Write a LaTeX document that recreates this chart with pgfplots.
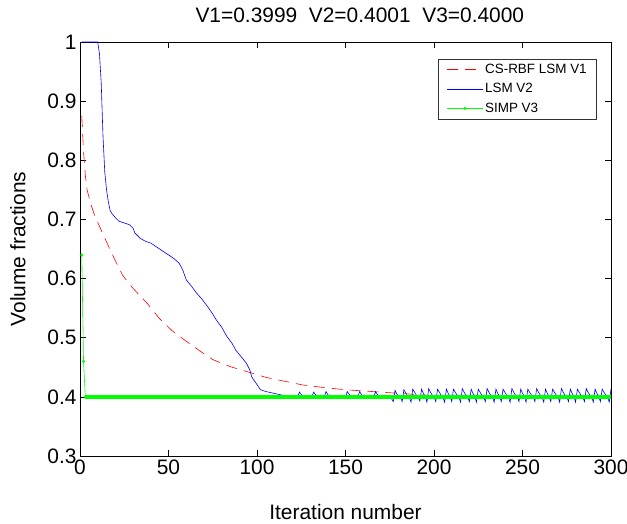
\documentclass[border=0pt]{standalone}
\usepackage{pgfplots}
\pgfplotsset{compat=1.18}
\usepackage{fontspec}
\setmainfont{Liberation Sans}
\begin{document}
\begin{tikzpicture}
\begin{axis}[
  name=ax,
  scale only axis, width=531bp, height=414bp,
  xmin=0, xmax=300, ymin=0.3, ymax=1,
  xtick={0,50,100,150,200,250,300},
  ytick={0.3,0.4,0.5,0.6,0.7,0.8,0.9,1},
  tick align=inside, major tick length=6bp,
  xtick pos=both, ytick pos=both,
  xticklabel pos=bottom, yticklabel pos=left,
  /pgf/number format/assume math mode=true,
  tick label style={font=\fontsize{21}{24}\selectfont},
  axis line style={black, line width=0.6pt},
  every tick/.style={black, line width=0.6pt},
  title={V1=0.3999\ \ V2=0.4001\ \ V3=0.4000},
  title style={font=\fontsize{21}{24}\selectfont, at={(axis description cs:0.527,1.05)}, anchor=center},
  xlabel={Iteration number},
  ylabel={Volume fractions},
  xlabel style={font=\fontsize{21}{24}\selectfont, at={(axis description cs:0.5,-0.135)}, anchor=center},
  ylabel style={font=\fontsize{21}{24}\selectfont, at={(axis description cs:-0.117,0.5)}, anchor=center},
  legend style={at={(0.9736,0.959)}, anchor=north east, font=\fontsize{13.5}{16}\selectfont,
    draw=black!80, line width=0.5pt, inner xsep=8bp, inner ysep=3bp, row sep=4.5bp},
  legend cell align=left,
  legend image code/.code={\draw[mark repeat=2,mark phase=2,#1] plot coordinates {(0bp,0bp) (18bp,0bp) (36bp,0bp)};},
]
\addplot[red, line width=0.6pt, dash pattern=on 11bp off 7bp] coordinates {
(1,0.875)(2,0.815)(3,0.775)(4,0.750)(6,0.727)(8,0.709)(10,0.695)(13,0.675)(17,0.649)(20,0.630)(24,0.606)(28,0.590)(32,0.577)(38,0.558)(45,0.532)(52,0.512)(60,0.494)(68,0.477)(75,0.463)(85,0.451)(94,0.443)(105,0.433)(113,0.428)(126,0.420)(140,0.415)(150,0.412)(165,0.409)(175,0.407)(190,0.404)(200,0.402)
};
\addlegendentry{CS-RBF LSM V1}
\addplot[blue, line width=0.6pt] coordinates {
(1,1)(10,1)(11,0.98)(12,0.93)(13,0.84)(14,0.78)(15,0.75)(16,0.73)(17,0.715)(18,0.71)(20,0.703)(22,0.697)(25,0.694)(28,0.691)(30,0.685)(31,0.677)(34,0.668)(37,0.663)(40,0.66)(43,0.654)(46,0.648)(50,0.64)(53,0.634)(56,0.626)(58,0.615)(60,0.598)(63,0.587)(66,0.575)(69,0.565)(72,0.553)(75,0.54)(77,0.53)(80,0.518)(83,0.502)(86,0.49)(88,0.479)(91,0.468)(94,0.457)(96,0.445)(97,0.434)(99,0.425)(102,0.412)(105,0.409)(108,0.407)(111,0.405)(114,0.403)(117,0.402)(120,0.401)
(122,0.400)(123,0.400)(124,0.408)(125,0.404)(126,0.401)(127,0.400)(131,0.400)(132,0.408)(133,0.404)(134,0.401)(135,0.400)(138,0.400)(139,0.409)(140,0.404)(141,0.401)(142,0.400)(150,0.400)(151,0.409)(152,0.405)(153,0.401)(154,0.400)(157,0.400)(158,0.409)(159,0.404)(160,0.401)(161,0.400)(166,0.400)(167,0.409)(168,0.404)(169,0.401)(170,0.400)(175,0.400)(176,0.397)(177,0.392)(178,0.411)(179,0.405)(180,0.401)(181,0.400)
(182,0.392)(183,0.412)(184,0.407)(185,0.402)(186,0.400)
(187,0.391)(188,0.413)(189,0.408)(190,0.403)(191,0.400)
(192,0.393)(193,0.413)(194,0.406)(195,0.401)
(196,0.391)(197,0.414)(198,0.408)(199,0.403)(200,0.400)
(201,0.392)(202,0.413)(203,0.408)(204,0.403)(205,0.400)
(206,0.391)(207,0.413)(208,0.406)(209,0.401)
(210,0.392)(211,0.413)(212,0.408)(213,0.403)(214,0.400)
(215,0.391)(216,0.414)(217,0.408)(218,0.403)(219,0.400)
(220,0.392)(221,0.413)(222,0.406)(223,0.401)
(224,0.391)(225,0.413)(226,0.408)(227,0.403)(228,0.400)
(229,0.392)(230,0.414)(231,0.408)(232,0.403)(233,0.400)
(234,0.391)(235,0.413)(236,0.406)(237,0.401)
(238,0.392)(239,0.413)(240,0.408)(241,0.403)(242,0.400)
(243,0.391)(244,0.414)(245,0.408)(246,0.403)(247,0.400)
(248,0.392)(249,0.413)(250,0.406)(251,0.401)
(252,0.391)(253,0.413)(254,0.408)(255,0.403)(256,0.400)
(257,0.392)(258,0.414)(259,0.408)(260,0.403)(261,0.400)
(262,0.391)(263,0.413)(264,0.406)(265,0.401)
(266,0.392)(267,0.413)(268,0.408)(269,0.403)(270,0.400)
(271,0.391)(272,0.414)(273,0.408)(274,0.403)(275,0.400)
(276,0.392)(277,0.413)(278,0.406)(279,0.401)
(280,0.391)(281,0.413)(282,0.408)(283,0.403)(284,0.400)
(285,0.392)(286,0.414)(287,0.408)(288,0.403)(289,0.400)
(290,0.391)(291,0.413)(292,0.406)(293,0.401)
(294,0.392)(295,0.413)(296,0.408)(297,0.403)(298,0.400)
(299,0.391)(300,0.413)
};
\addlegendentry{LSM V2}
\addplot[green, line width=0.6pt, mark=*, mark size=1.2bp] coordinates {
(1,0.64)(2,0.46)(3,0.40)
};
\addlegendentry{SIMP V3}
\addplot[green, line width=3.5bp, forget plot] coordinates {
(3,0.40)(300,0.40)
};
\end{axis}
\pgfresetboundingbox
\path ([xshift=-80bp,yshift=-68bp]ax.south west) rectangle ([xshift=16bp,yshift=42bp]ax.north east);
\end{tikzpicture}
\end{document}
